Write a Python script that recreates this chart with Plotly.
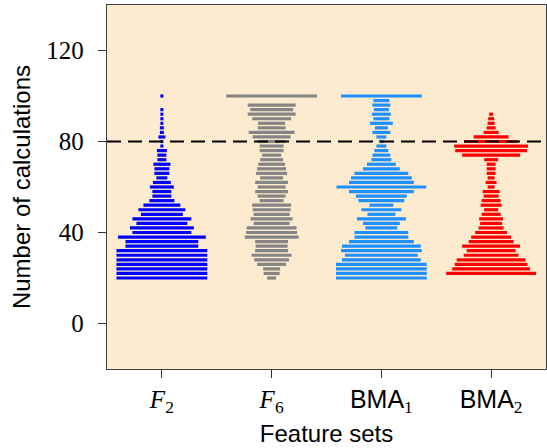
import plotly.graph_objects as go

# y values (number of calculations), step 2
values = list(range(20, 102, 2))

categories = ["F2", "F6", "BMA1", "BMA2"]
tick_labels = [
    "<i>F</i><sub>2</sub>",
    "<i>F</i><sub>6</sub>",
    "<span style='font-family:Liberation Sans'>BMA</span><sub>1</sub>",
    "<span style='font-family:Liberation Sans'>BMA</span><sub>2</sub>",
]

# number of swarm points at each value (20, 22, ..., 100)
f2_counts = [91, 91, 91, 91, 91, 91, 91, 73, 73, 88, 59, 64, 51, 59, 42, 47, 37, 25, 19, 19,
             24, 18, 11, 15, 15, 17, 9, 9, 10, 2, 3, 7, 4, 4, 3, 3, 1, 1, 0, 0, 1]
f6_counts = [9, 16, 17, 29, 35, 40, 33, 32, 33, 54, 51, 50, 36, 42, 36, 38, 39, 24, 28, 33,
             28, 33, 23, 31, 29, 27, 23, 19, 24, 24, 28, 38, 46, 28, 27, 39, 48, 43, 48, 0, 91]
bma1_counts = [91, 91, 91, 91, 79, 73, 81, 79, 65, 54, 54, 32, 37, 49, 28, 40, 24, 46, 51, 65,
               90, 65, 61, 54, 37, 29, 20, 18, 14, 10, 5, 10, 18, 13, 23, 16, 19, 15, 18, 16, 81]
bma2_counts = [0, 90, 78, 73, 69, 55, 49, 58, 45, 40, 32, 25, 22, 24, 19, 14, 21, 19, 15, 17,
               7, 11, 7, 9, 9, 9, 14, 58, 72, 74, 54, 35, 15, 9, 7, 6, 4, 0, 0, 0, 0]

series = [f2_counts, f6_counts, bma1_counts, bma2_counts]
colors = ["#0000ff", "#858585", "#1e90ff", "#ff0000"]

threshold = 80
point_step = 1.0 / 110.0  # category units per swarm point

fig = go.Figure()
for i, (counts, col) in enumerate(zip(series, colors)):
    xs, ys = [], []
    for v, n in zip(values, counts):
        if n <= 0:
            continue
        half = max(n, 3) * point_step / 2
        xs += [i - half, i + half, None]
        ys += [v, v, None]
    fig.add_trace(go.Scatter(x=xs, y=ys, mode="lines",
                             line=dict(color=col, width=3.2),
                             hoverinfo="skip", showlegend=False))

fig.add_shape(type="line", xref="paper", x0=0, x1=1, yref="y", y0=threshold, y1=threshold,
              line=dict(color="black", width=2, dash="14px,7px"), layer="above")

fig.update_layout(
    width=547, height=448,
    margin=dict(l=107, r=1, t=5, b=79),
    plot_bgcolor="#fdebd0",
    paper_bgcolor="white",
    font=dict(family="Liberation Serif", size=25, color="black"),
    showlegend=False,
)
fig.update_xaxes(
    range=[-0.5, 3.5], tickvals=[0, 1, 2, 3], ticktext=tick_labels,
    tickfont=dict(size=25),
    showgrid=False, zeroline=False, showline=True, mirror=True,
    linecolor="#404040", linewidth=1.3, ticks="outside", ticklen=8, tickwidth=1.3,
    tickcolor="#303030",
    title=dict(text="Feature sets", font=dict(family="Liberation Sans", size=24), standoff=8),
)
fig.update_yaxes(
    range=[-20, 140], tickvals=[0, 40, 80, 120],
    tickfont=dict(size=25), ticklabelstandoff=9,
    showgrid=False, zeroline=False, showline=True, mirror=True,
    linecolor="#404040", linewidth=1.3, ticks="outside", ticklen=8, tickwidth=1.3,
    tickcolor="#303030",
    title=dict(text="Number of calculations", font=dict(family="Liberation Sans", size=24), standoff=8),
)

fig.write_html("out.html")
